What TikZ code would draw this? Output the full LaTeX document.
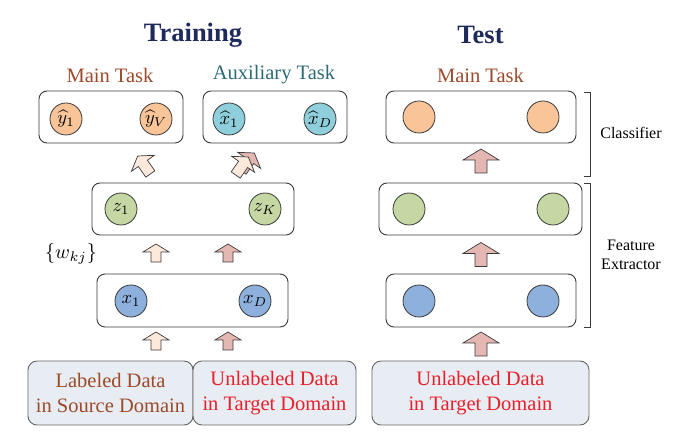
\documentclass[tikz,border=0pt]{standalone}
\usepackage{fontspec}
\setmainfont{Liberation Serif}
\definecolor{navy}{HTML}{1F2A5C}
\definecolor{brownt}{HTML}{9C4A2A}
\definecolor{tealt}{HTML}{2E6B78}
\definecolor{redt}{HTML}{E8202A}
\definecolor{peach}{HTML}{F8C498}
\definecolor{cyanc}{HTML}{8ECFDB}
\definecolor{greenc}{HTML}{C5D8A4}
\definecolor{bluec}{HTML}{8DB0DD}
\definecolor{databg}{HTML}{E8ECF3}
\definecolor{lightarr}{HTML}{FDE9DC}
\definecolor{pinkarr}{HTML}{E5B7B3}
\definecolor{edgec}{HTML}{3A3A3A}
\newcommand{\unitmath}[1]{\scalebox{1.85}{$#1$}}
\tikzset{
  layerbox/.style={draw=edgec, line width=0.9pt, rounded corners=8pt, fill=white},
  unit/.style={circle, draw=edgec, line width=0.8pt, minimum size=32pt, inner sep=0pt},
  databox/.style={draw=black!60, line width=0.9pt, rounded corners=9pt, fill=databg, align=center, font=\fontsize{20.5}{25}\selectfont, inner sep=0pt},
  title/.style={font=\fontsize{26.5}{30}\selectfont\bfseries, text=navy},
  task/.style={font=\fontsize{20.5}{22}\selectfont},
  side/.style={font=\fontsize{16}{19}\selectfont, align=center},
  pics/blockarrow/.style n args={5}{code={
    % args: fill, total height, head width, head height, shaft width
    \fill[#1, draw=edgec, line width=0.7pt, line join=miter]
      (0,-#2/2) -- (#3/2,-#2/2+#4) -- (#5/2,-#2/2+#4) -- (#5/2,#2/2)
      -- (-#5/2,#2/2) -- (-#5/2,-#2/2+#4) -- (-#3/2,-#2/2+#4) -- cycle;
  }},
}
\begin{document}
\begin{tikzpicture}[x=1pt,y=-1pt]
\useasboundingbox (0,0) rectangle (689,446);

% titles
\node[title] (ttrain) at (193,35) {Training};
\node[title] (ttest) at (480.5,35) {Test};
\node[task, text=brownt] (tmain) at (110,75) {Main Task};
\node[task, text=tealt] (taux) at (274,75) {Auxiliary Task};
\node[task, text=brownt] (tmain2) at (480.5,75) {Main Task};

% ---------- Training ----------
\node[layerbox, minimum width=144pt, minimum height=52pt] (bmain) at (111,117) {};
\node[layerbox, minimum width=144pt, minimum height=52pt] (baux) at (275,117) {};
\node[unit, fill=peach] (y1) at (66,119) {\unitmath{\widehat{y}_1}};
\node[unit, fill=peach] (yV) at (156,119) {\unitmath{\widehat{y}_V}};
\node[unit, fill=cyanc] (xh1) at (229,119) {\unitmath{\widehat{x}_1}};
\node[unit, fill=cyanc] (xhD) at (320,119) {\unitmath{\widehat{x}_D}};

\node[layerbox, minimum width=202pt, minimum height=52pt] (bmid) at (193,209) {};
\node[unit, fill=greenc] (z1) at (121,209) {\unitmath{z_1}};
\node[unit, fill=greenc] (zK) at (265,209) {\unitmath{z_K}};

\node[layerbox, minimum width=191pt, minimum height=53pt] (bbot) at (192.5,300.5) {};
\node[unit, fill=bluec] (x1) at (131,301) {\unitmath{x_1}};
\node[unit, fill=bluec] (xD) at (255,301) {\unitmath{x_D}};

\node (wkj) at (71,254) {\scalebox{2.0}{$\{w_{kj}\}$}};

\node[databox, minimum width=165pt, minimum height=64pt, text=brownt] (dsrc) at (110.5,393) {Labeled Data\\in Source Domain};
\node[databox, minimum width=163pt, minimum height=64pt, text=redt] (dtgt) at (274.5,393) {Unlabeled Data\\in Target Domain};

% arrows (training)
\pic at (156,341) {blockarrow={lightarr}{18}{26}{8}{10}};
\pic at (228,341) {blockarrow={pinkarr}{18}{26}{8}{10}};
\pic at (156,253) {blockarrow={lightarr}{18}{26}{8}{10}};
\pic at (228,253) {blockarrow={pinkarr}{18}{26}{8}{10}};
\pic[rotate=35] at (144,165) {blockarrow={lightarr}{22}{28}{9}{11}};
\pic[rotate=-35] at (248,162) {blockarrow={pinkarr}{22}{28}{9}{11}};
\pic[rotate=-35] at (242,166) {blockarrow={lightarr}{22}{28}{9}{11}};

% ---------- Test ----------
\node[layerbox, minimum width=190pt, minimum height=52pt] (tbtop) at (481,117) {};
\node[unit, fill=peach] (ty1) at (419,117) {};
\node[unit, fill=peach] (ty2) at (543,117) {};
\node[layerbox, minimum width=203pt, minimum height=52pt] (tbmid) at (480.5,209) {};
\node[unit, fill=greenc] (tz1) at (409,209) {};
\node[unit, fill=greenc] (tz2) at (553,209) {};
\node[layerbox, minimum width=190pt, minimum height=53pt] (tbbot) at (481,300.5) {};
\node[unit, fill=bluec] (tx1) at (419,301) {};
\node[unit, fill=bluec] (tx2) at (543,301) {};
\node[databox, minimum width=217pt, minimum height=64pt, text=redt] (tdata) at (480.5,393) {Unlabeled Data\\in Target Domain};

\pic at (481,161) {blockarrow={pinkarr}{24}{36}{11}{12}};
\pic at (481,254.5) {blockarrow={pinkarr}{24}{36}{11}{12}};
\pic at (481,344) {blockarrow={pinkarr}{24}{36}{11}{12}};

% brackets
\coordinate (c1a) at (584,92);
\coordinate (c1b) at (590,92);
\coordinate (c1c) at (590,176);
\coordinate (c1d) at (584,176);
\coordinate (c2a) at (584,183);
\coordinate (c2b) at (590,183);
\coordinate (c2c) at (590,327);
\coordinate (c2d) at (584,327);
\draw[edgec, line width=0.8pt] (c1a) -- (c1b) -- (c1c) -- (c1d);
\draw[edgec, line width=0.8pt] (c2a) -- (c2b) -- (c2c) -- (c2d);
\node[side] (lcls) at (631,133) {Classifier};
\node[side] (lfe) at (631,254.5) {Feature\\Extractor};
\end{tikzpicture}
\end{document}
